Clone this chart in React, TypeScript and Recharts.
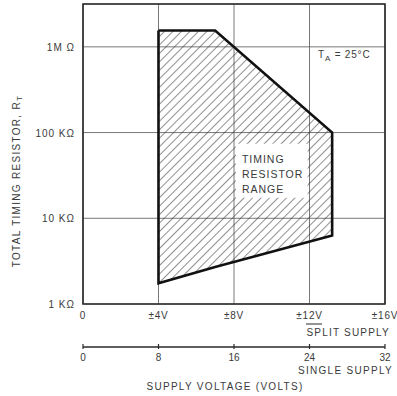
import {
  Area,
  CartesianGrid,
  ComposedChart,
  ReferenceArea,
  Scatter,
  XAxis,
  YAxis,
} from "recharts";

// split supply ticks (±V) and matching single supply ticks (V)
const splitTicks = [0, 4, 8, 12, 16];
const splitLabels = ["0", "±4V", "±8V", "±12V", "±16V"];
const singleTicks = [0, 8, 16, 24, 32];
const singleLabels = ["0", "8", "16", "24", "32"];

// resistance ticks in ohms
const resistanceTicks = [1e3, 1e4, 1e5, 1e6];
const resistanceLabels = ["1 KΩ", "10 KΩ", "100 KΩ", "1M Ω"];

// timing resistor range (split supply volts, ohms)
const rangeVolts = [4, 7, 13.2];
const rangeMax = [1.55e6, 1.55e6, 1.0e5];
const rangeMin = [1.75e3, 2.7e3, 6.3e3];

const INK = "#2a2a2a";
const TEXT = "#3a3a3a";
const FONT = "'Liberation Sans', Arial, sans-serif";

const lg = (v: number) => Math.log10(v);

// single supply voltage is twice the split supply value
const areaData = rangeVolts.map((v, i) => ({
  v,
  vs: v * 2,
  range: [lg(rangeMin[i]), lg(rangeMax[i])],
}));

// closed outline: along the top, back along the bottom, then close
const outline = [
  ...rangeVolts.map((v, i) => ({ v, r: lg(rangeMax[i]) })),
  ...rangeVolts
    .map((v, i) => ({ v, r: lg(rangeMin[i]) }))
    .reverse(),
  { v: rangeVolts[0], r: lg(rangeMax[0]) },
];

const SplitTick = (props: any) => {
  const { x, y, payload } = props;
  const i = splitTicks.indexOf(payload.value);
  return (
    <text
      x={x}
      y={y + 13}
      textAnchor="middle"
      fontSize={10}
      letterSpacing={0.8}
      fill={TEXT}
      fontFamily={FONT}
    >
      {splitLabels[i]}
    </text>
  );
};

const SingleTick = (props: any) => {
  const { x, y, payload } = props;
  const i = singleTicks.indexOf(payload.value);
  return (
    <g>
      <line x1={x} y1={y - 5} x2={x} y2={y} stroke={INK} strokeWidth={1.2} />
      <text
        x={x}
        y={y + 12}
        textAnchor="middle"
        fontSize={10}
        fill={TEXT}
        fontFamily={FONT}
      >
        {singleLabels[i]}
      </text>
    </g>
  );
};

const ResTick = (props: any) => {
  const { x, y, payload } = props;
  const i = resistanceTicks.findIndex((t) => Math.abs(lg(t) - payload.value) < 1e-6);
  return (
    <text
      x={x}
      y={y + 4}
      textAnchor="end"
      fontSize={10}
      letterSpacing={1}
      fill={TEXT}
      fontFamily={FONT}
    >
      {resistanceLabels[i]}
    </text>
  );
};

const BoxLabel = (props: any) => {
  const { viewBox } = props;
  const x = viewBox.x + 6;
  const y = viewBox.y;
  return (
    <text fontFamily={FONT} fontSize={10.5} fill={TEXT} letterSpacing={1}>
      <tspan x={x} y={y + 19}>TIMING</tspan>
      <tspan x={x} y={y + 34}>RESISTOR</tspan>
      <tspan x={x} y={y + 49}>RANGE</tspan>
    </text>
  );
};

export default function App() {
  return (
    <div style={{ position: "absolute", left: 0, top: 0, background: "#fff" }}>
      <ComposedChart
        width={397}
        height={396}
        data={areaData}
        margin={{ top: 4, right: 12, bottom: 19, left: 7 }}
      >
        <defs>
          <pattern
            id="hatch"
            patternUnits="userSpaceOnUse"
            width={6}
            height={6}
            patternTransform="rotate(45)"
          >
            <line x1={0} y1={0} x2={0} y2={6} stroke="#333" strokeWidth={1.1} />
          </pattern>
        </defs>
        <CartesianGrid xAxisId="a" stroke="#555" strokeWidth={0.8} />
        <XAxis
          xAxisId="a"
          dataKey="v"
          type="number"
          domain={[0, 16]}
          ticks={splitTicks}
          interval={0}
          tick={<SplitTick />}
          tickLine={false}
          axisLine={false}
          tickSize={0}
          height={43}
          allowDataOverflow
        />
        <XAxis
          xAxisId="b"
          dataKey="vs"
          type="number"
          domain={[0, 32]}
          ticks={singleTicks}
          interval={0}
          tick={<SingleTick />}
          tickLine={false}
          axisLine={{ stroke: INK, strokeWidth: 1.4 }}
          tickSize={0}
          height={30}
          allowDataOverflow
        />
        <YAxis
          type="number"
          domain={[3, 6.5]}
          ticks={resistanceTicks.map(lg)}
          interval={0}
          tick={<ResTick />}
          tickLine={false}
          axisLine={false}
          tickSize={6}
          width={76}
          allowDataOverflow
        />
        <Area
          xAxisId="b"
          type="linear"
          dataKey="range"
          stroke="none"
          fill="url(#hatch)"
          fillOpacity={1}
          isAnimationActive={false}
        />
        <ReferenceArea
          xAxisId="a"
          x1={8.1}
          x2={11.9}
          y1={4.24}
          y2={4.87}
          fill="#fff"
          fillOpacity={1}
          stroke="none"
          label={<BoxLabel />}
        />
        <Scatter
          xAxisId="a"
          data={outline}
          dataKey="r"
          line={{ stroke: "#111", strokeWidth: 2.6 }}
          lineJointType="linear"
          shape={() => <g />}
          isAnimationActive={false}
        />
        <ReferenceArea
          xAxisId="a"
          x1={0}
          x2={16}
          y1={3}
          y2={6.5}
          fill="none"
          stroke={INK}
          strokeWidth={1.6}
        />
        <text x={318} y={58} fontFamily={FONT} fontSize={10} fill={TEXT} letterSpacing={0.8}>
          T<tspan fontSize={8} dy={3}>A</tspan>
          <tspan dy={-3}> = 25°C</tspan>
        </text>
        <text
          x={390}
          y={336}
          textAnchor="end"
          fontFamily={FONT}
          fontSize={10}
          fill={TEXT}
          letterSpacing={1.2}
        >
          SPLIT SUPPLY
        </text>
        <line x1={306} y1={324} x2={322} y2={324} stroke={INK} strokeWidth={1} />
        <text
          x={393}
          y={374}
          textAnchor="end"
          fontFamily={FONT}
          fontSize={10}
          fill={TEXT}
          letterSpacing={1.3}
        >
          SINGLE SUPPLY
        </text>
        <text
          x={225}
          y={390}
          textAnchor="middle"
          fontFamily={FONT}
          fontSize={10}
          fill={TEXT}
          letterSpacing={1.3}
        >
          SUPPLY VOLTAGE (VOLTS)
        </text>
        <text
          transform="rotate(-90, 17, 181)"
          x={17}
          y={181}
          textAnchor="middle"
          dominantBaseline="middle"
          fontFamily={FONT}
          fontSize={10}
          fill={TEXT}
          letterSpacing={1.3}
        >
          TOTAL TIMING RESISTOR, R<tspan fontSize={8} dy={3}>T</tspan>
        </text>
      </ComposedChart>
    </div>
  );
}
